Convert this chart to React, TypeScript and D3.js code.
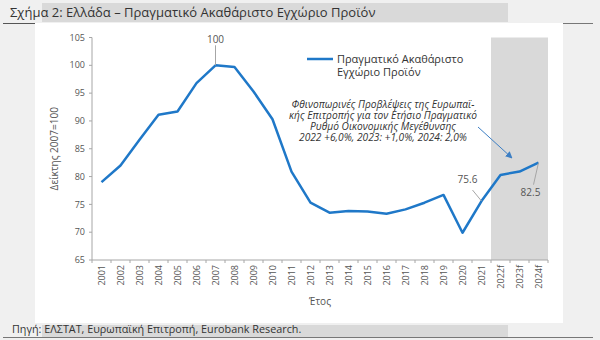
import React from "react";
import * as d3 from "d3";

const years = ["2001","2002","2003","2004","2005","2006","2007","2008","2009","2010","2011","2012","2013","2014","2015","2016","2017","2018","2019","2020","2021","2022f","2023f","2024f"];
const gdp = [79.0,82.0,86.6,91.1,91.7,96.8,100,99.7,95.3,90.3,80.9,75.3,73.5,73.8,73.7,73.3,74.1,75.3,76.7,69.9,75.6,80.3,80.9,82.5];
const yTicks = [65,70,75,80,85,90,95,100,105];
const forecastYears = ["2022f","2023f","2024f"];
const legendLines = ["Πραγματικό Ακαθάριστο", "Εγχώριο Προϊόν"];
const noteLines = [
  "Φθινοπωρινές Προβλέψεις της Ευρωπαϊ-",
  "κής Επιτροπής για τον Ετήσιο Πραγματικό",
  "Ρυθμό Οικονομικής Μεγέθυνσης",
  "2022 +6,0%, 2023: +1,0%, 2024: 2,0%",
];
const labelled = [
  { year: "2007", text: "100", dx: 0, dy: -20, tx: 0, ty: -22 },
  { year: "2021", text: "75.6", dx: -9, dy: -11, tx: -14, ty: -18 },
  { year: "2024f", text: "82.5", dx: -5, dy: 22, tx: -8, ty: 33 },
];

const FONT = "'Open Sans', sans-serif";
const BLUE = "#1f78c8";

export default function App() {
  const W = 600, H = 340;
  const x = d3.scaleBand<string>().domain(years).range([92, 548]);
  const y = d3.scaleLinear().domain([65, 105]).range([260, 37.5]);
  const cx = (yr: string) => (x(yr) as number) + x.bandwidth() / 2;
  const line = d3.line<number>().x((_, i) => cx(years[i])).y((d) => y(d));
  const fx0 = x(forecastYears[0]) as number;
  const fx1 = (x(forecastYears[forecastYears.length - 1]) as number) + x.bandwidth();

  return (
    <svg width={W} height={H} style={{ position: "absolute", left: 0, top: 0, fontFamily: FONT }}>
      <defs>
        <marker id="arr" viewBox="0 0 10 10" refX="9" refY="5" markerWidth="7" markerHeight="7" orient="auto">
          <path d="M0,0 L10,5 L0,10 z" fill="#3d7fc4" />
        </marker>
      </defs>
      <rect x={0} y={0} width={W} height={H} fill="#f0f0f0" />
      <rect x={35} y={23} width={528} height={300} fill="#ffffff" />
      <rect x={42} y={3} width={466} height={19} fill="#d9d9d9" />
      <line x1={3} x2={35} y1={23.5} y2={23.5} stroke="#555" strokeWidth={1} />
      <line x1={563} x2={593} y1={23.5} y2={23.5} stroke="#777" strokeWidth={1} />
      <text x={10} y={17} fontSize={13} fill="#333">Σχήμα 2: Ελλάδα – Πραγματικό Ακαθάριστο Εγχώριο Προϊόν</text>

      <rect x={42} y={325} width={466} height={12} fill="#d9d9d9" />
      <line x1={3} x2={593} y1={337.5} y2={337.5} stroke="#777" strokeWidth={1} />
      <text x={12} y={333} fontSize={10.8} fill="#333">Πηγή: ΕΛΣΤΑΤ, Ευρωπαϊκή Επιτροπή, Eurobank Research.</text>

      {/* forecast shading */}
      <rect x={fx0} y={y(105)} width={fx1 - fx0} height={y(65) - y(105)} fill="#d9d9d9" />

      {/* y axis */}
      <line x1={92} x2={92} y1={y(105)} y2={y(65)} stroke="#a6a6a6" />
      {yTicks.map((t) => (
        <g key={t}>
          <line x1={89} x2={92} y1={y(t)} y2={y(t)} stroke="#a6a6a6" />
          <text x={85} y={y(t)} dy="0.35em" textAnchor="end" fontSize={9} fill="#555">{t}</text>
        </g>
      ))}
      <text transform={`translate(58,${(y(65) + y(105)) / 2}) rotate(-90)`} textAnchor="middle" fontSize={10} fill="#555">Δείκτης 2007=100</text>

      {/* x axis */}
      <line x1={92} x2={548} y1={y(65)} y2={y(65)} stroke="#a6a6a6" />
      {years.map((yr) => (
        <line key={"t" + yr} x1={x(yr) as number} x2={x(yr) as number} y1={y(65)} y2={y(65) + 3} stroke="#a6a6a6" />
      ))}
      <line x1={548} x2={548} y1={y(65)} y2={y(65) + 3} stroke="#a6a6a6" />
      {years.map((yr) => (
        <text key={yr} transform={`translate(${cx(yr) + 3},${y(65) + 5}) rotate(-90)`} textAnchor="end" fontSize={9} fill="#555">{yr}</text>
      ))}
      <text x={320} y={305} textAnchor="middle" fontSize={10} fill="#555">Έτος</text>

      {/* data line */}
      <path d={line(gdp) as string} fill="none" stroke={BLUE} strokeWidth={2.5} strokeLinejoin="round" />

      {/* point labels */}
      {labelled.map((l) => {
        const i = years.indexOf(l.year);
        const px = cx(l.year), py = y(gdp[i]);
        return (
          <g key={l.year}>
            <line x1={px} y1={py} x2={px + l.dx} y2={py + l.dy} stroke="#a6a6a6" strokeWidth={1} />
            <text x={px + l.tx} y={py + l.ty} textAnchor="middle" fontSize={10} fill="#555">{l.text}</text>
          </g>
        );
      })}

      {/* legend */}
      <line x1={307} x2={333} y1={59} y2={59} stroke={BLUE} strokeWidth={2.5} />
      {legendLines.map((t, i) => (
        <text key={t} x={337} y={59 + i * 13} dy="0.35em" fontSize={11} fill="#333">{t}</text>
      ))}

      {/* note */}
      {noteLines.map((t, i) => (
        <text key={t} x={383} y={104 + i * 11.3} dy="0.35em" textAnchor="middle" fontSize={10.2} fontStyle="italic" fill="#333">{t}</text>
      ))}
      <line x1={478} y1={127} x2={512} y2={158} stroke="#3d7fc4" strokeWidth={1} markerEnd="url(#arr)" />
    </svg>
  );
}
